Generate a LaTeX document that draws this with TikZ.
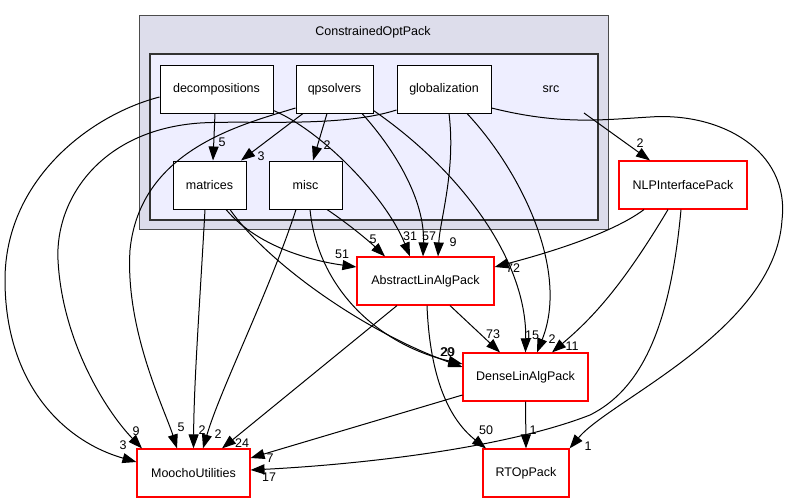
\documentclass[tikz,border=0pt]{standalone}
\usepackage{fontspec}
\setmainfont{Liberation Sans}
\usetikzlibrary{arrows.meta,calc}
\definecolor{outerfill}{HTML}{DDDDEB}
\definecolor{innerfill}{HTML}{EEEEFF}
\definecolor{pkgred}{HTML}{FF0000}
\begin{document}
\begin{tikzpicture}[x=1pt,y=-1pt,
  every node/.style={font=\fontsize{12.5}{14}\selectfont},
  dirbox/.style={draw=black,fill=white,line width=1pt,minimum height=48pt,inner sep=0pt},
  pkgbox/.style={draw=pkgred,fill=white,line width=1.15pt,minimum height=48pt,inner sep=0pt},
  e/.style={draw=black,line width=1pt,-{Triangle[length=14pt,width=10pt]}},
  lbl/.style={inner sep=0pt}
]
\useasboundingbox (0,0) rectangle (786,503);
% clusters
\draw[fill=outerfill,draw=black!70,line width=1pt] (139,16) rectangle (608,229);
\node (cop) at (373,32) {ConstrainedOptPack};
\draw[fill=innerfill,draw=black!80,line width=1.8pt] (150,54) rectangle (598,220);
\node (src) at (551,89) {src};
% nodes
\node[dirbox,minimum width=113pt] (decompositions) at (216.5,89) {decompositions};
\node[dirbox,minimum width=77pt] (qpsolvers) at (334.5,89) {qpsolvers};
\node[dirbox,minimum width=94pt] (globalization) at (444,89) {globalization};
\node[dirbox,minimum width=73pt] (matrices) at (209.5,185) {matrices};
\node[dirbox,minimum width=73pt] (misc) at (305.5,185) {misc};
\node[pkgbox,minimum width=137pt] (ala) at (425.5,281) {AbstractLinAlgPack};
\node[pkgbox,minimum width=125pt] (dla) at (525.5,377) {DenseLinAlgPack};
\node[pkgbox,minimum width=113pt] (moocho) at (193.5,473) {MoochoUtilities};
\node[pkgbox,minimum width=86pt] (rtop) at (526,473) {RTOpPack};
\node[pkgbox,minimum width=128pt] (nlp) at (683,185) {NLPInterfacePack};
% edges
\draw[e] ($(decompositions.south)+(-1.5,0)$) -- ($(matrices.north)+(3.5,0)$);
\node[lbl] (l1) at (222,142) {5};
\draw[e] ($(qpsolvers.south)+(-31.5,0)$) -- ($(matrices.north)+(31.5,0)$);
\node[lbl] (l2) at (261,156) {3};
\draw[e] ($(qpsolvers.south)+(-7.5,0)$) -- ($(misc.north)+(7.5,0)$);
\node[lbl] (l3) at (327,145) {2};
\draw[e] ($(decompositions.south east)+(0,-3)$) .. controls (320,130) and (385,195) .. ($(ala.north)+(-15.5,0)$);
\node[lbl] (l4) at (410,236) {31};
\draw[e] ($(qpsolvers.south)+(27.5,0)$) .. controls (395,150) and (425,200) .. ($(ala.north)+(-2.5,0)$);
\node[lbl] (l5) at (429,236) {57};
\draw[e] ($(globalization.south)+(5,0)$) .. controls (456,170) and (440,220) .. ($(ala.north)+(12.5,0)$);
\node[lbl] (l6) at (453,242) {9};
\draw[e] ($(qpsolvers.south east)+(0,-3)$) .. controls (460,170) and (527,260) .. (dla.north);
\node[lbl] (l7) at (532,335) {15};
\draw[e] ($(globalization.south)+(23,0)$) .. controls (520,170) and (570,270) .. ($(dla.north)+(11.5,0)$);
\node[lbl] (l8) at (552,339) {2};
\draw[e] ($(globalization.east)+(0,19)$) .. controls (560,125) and (600,120) .. (650,117) .. controls (720,112) and (790,150) .. (782,220) .. controls (775,330) and (610,400) .. (rtop.north east);
\node[lbl] (l9) at (588,446) {1};
\draw[e] ($(globalization.west)+(0,21)$) .. controls (340,128) and (250,120) .. (200,123) .. controls (100,130) and (55,200) .. (58,260) .. controls (62,340) and (105,410) .. ($(moocho.north)+(-51.5,0)$);
\node[lbl] (l10) at (136,431) {9};
\draw[e] ($(decompositions.west)+(0,8)$) .. controls (90,115) and (5,180) .. (5,280) .. controls (5,380) and (60,440) .. ($(moocho.west)+(0,-11)$);
\node[lbl] (l11) at (123,445) {3};
\draw[e] ($(qpsolvers.west)+(0,19)$) .. controls (240,125) and (140,150) .. (130,250) .. controls (125,330) and (165,410) .. ($(moocho.north)+(-16.5,0)$);
\node[lbl] (l12) at (181,427) {5};
\draw[e] ($(matrices.south)+(-4.5,0)$) .. controls (200,300) and (194,380) .. (moocho.north);
\node[lbl] (l13) at (202,430) {2};
\draw[e] ($(misc.south)+(-9.5,0)$) .. controls (270,290) and (220,390) .. ($(moocho.north)+(9.5,0)$);
\node[lbl] (l14) at (218,434) {2};
\draw[e] ($(matrices.south)+(16.5,0)$) .. controls (260,250) and (320,262) .. ($(ala.west)+(0,-14)$);
\node[lbl] (l15) at (342,254) {51};
\draw[e] ($(matrices.south)+(20.5,0)$) .. controls (265,260) and (360,330) .. ($(dla.west)+(0,-10)$);
\draw[e] ($(misc.south)+(4.5,0)$) .. controls (318,290) and (380,345) .. ($(dla.west)+(0,-13)$);
\node[lbl] (l16) at (447,352) {20};
\node[lbl] (l17) at (448,352) {29};
\draw[e] ($(misc.south)+(21.5,0)$) .. controls (350,225) and (370,242) .. ($(ala.north)+(-40.5,0)$);
\node[lbl] (l18) at (373,239) {5};
\draw[e] ($(ala.south)+(24.5,0)$) -- ($(dla.north)+(-25.5,0)$);
\node[lbl] (l19) at (493,334) {73};
\draw[e] ($(ala.south)+(-28.5,0)$) -- ($(moocho.north)+(28.5,0)$);
\node[lbl] (l20) at (242,443) {24};
\draw[e] ($(ala.south)+(1.5,0)$) .. controls (430,380) and (450,420) .. ($(rtop.north)+(-40,0)$);
\node[lbl] (l21) at (486,430) {50};
\draw[e] (dla.south) -- (rtop.north);
\node[lbl] (l22) at (533,430) {1};
\draw[e] ($(dla.west)+(0,18)$) -- ($(moocho.east)+(0,-15)$);
\node[lbl] (l23) at (270,458) {7};
\draw[e] ($(nlp.south)+(-2,0)$) .. controls (670,330) and (640,390) .. (590,415) .. controls (500,450) and (350,465) .. ($(moocho.east)+(0,-3)$);
\node[lbl] (l24) at (269,477) {17};
\draw[e] ($(nlp.south)+(-39,0)$) .. controls (610,235) and (540,255) .. ($(ala.east)+(0,-14)$);
\node[lbl] (l25) at (513,268) {72};
\draw[e] ($(nlp.south)+(-15,0)$) .. controls (620,290) and (590,320) .. ($(dla.north)+(26.5,0)$);
\node[lbl] (l26) at (572,346) {11};
\draw[e] ($(src.center)+(33,24)$) -- ($(nlp.north)+(-33,0)$);
\node[lbl] (l27) at (640,143) {2};
\end{tikzpicture}
\end{document}
